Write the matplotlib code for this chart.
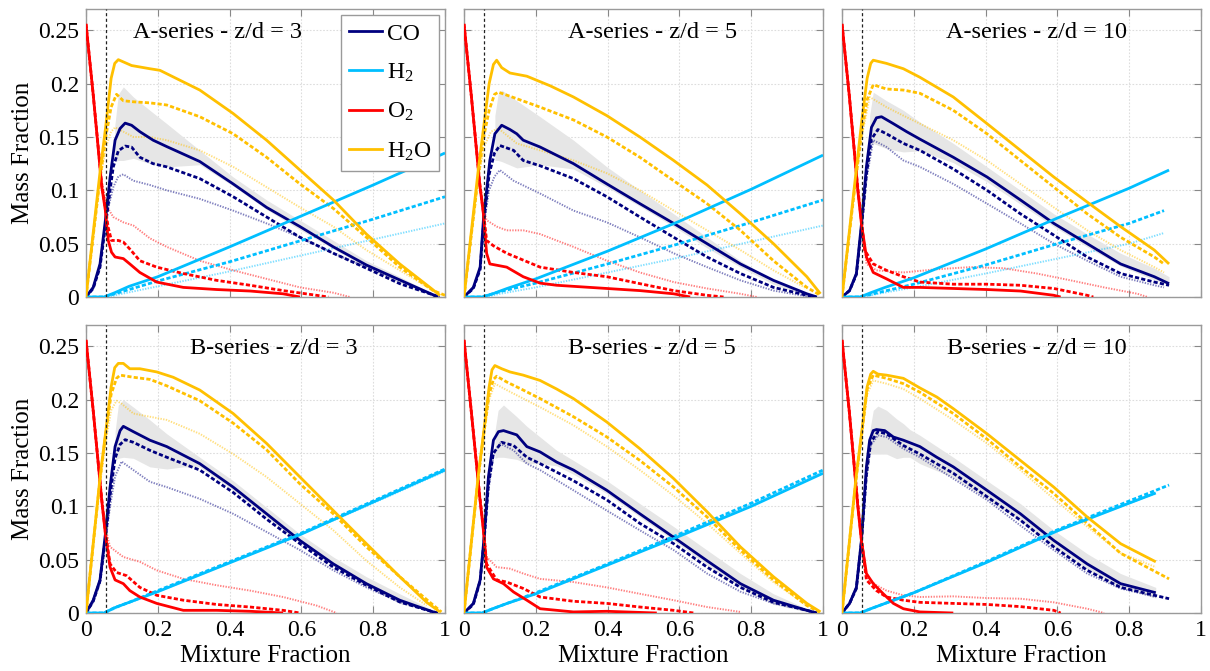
import numpy as np
import matplotlib
matplotlib.use('Agg')
import matplotlib.pyplot as plt
from matplotlib.ticker import FuncFormatter
from matplotlib.lines import Line2D

plt.rcParams['font.family'] = ['Liberation Serif', 'DejaVu Serif']
plt.rcParams['mathtext.fontset'] = 'custom'
plt.rcParams['mathtext.rm'] = 'Liberation Serif'
plt.rcParams['mathtext.it'] = 'Liberation Serif:italic'

# ---------------- data (x = mixture fraction, y = mass fraction)
Z_ST = 0.055

# A-series z/d = 3
A3_CO_SOL = [(0,0),(0.02,0.009),(0.039,0.031),(0.054,0.072),(0.067,0.112),(0.081,0.147),(0.095,0.158),(0.109,0.163),(0.127,0.161),(0.15,0.155),(0.187,0.147),(0.225,0.141),(0.317,0.127),(0.41,0.106),(0.503,0.084),(0.596,0.066),(0.689,0.047),(0.781,0.030),(0.874,0.016),(0.967,0.002),(0.981,0.0)]
A3_CO_DSH = [(0,0),(0.02,0.008),(0.039,0.028),(0.054,0.066),(0.067,0.1),(0.076,0.122),(0.09,0.137),(0.109,0.1415),(0.127,0.1405),(0.15,0.131),(0.187,0.125),(0.225,0.122),(0.317,0.111),(0.41,0.094),(0.503,0.075),(0.596,0.056),(0.689,0.041),(0.781,0.027),(0.874,0.0125),(0.967,0.002),(0.985,0.0)]
A3_CO_LIT = [(0,0),(0.02,0.008),(0.039,0.027),(0.058,0.078),(0.076,0.103),(0.09,0.113),(0.104,0.115),(0.132,0.109),(0.178,0.105),(0.225,0.1),(0.317,0.092),(0.41,0.081),(0.503,0.069),(0.596,0.056),(0.689,0.041),(0.781,0.028),(0.874,0.0156),(0.967,0.002),(0.985,0.0)]
A3_H2_SOL = [(0,0),(0.05,0),(0.08,0.004),(0.12,0.01),(0.2,0.019),(0.4,0.047),(0.6,0.076),(0.8,0.105),(1.0,0.135)]
A3_H2_DSH = [(0,0),(0.05,0),(0.08,0.003),(0.12,0.007),(0.2,0.015),(0.4,0.033),(0.6,0.053),(0.8,0.073),(1.0,0.094)]
A3_H2_LIT = [(0,0),(0.06,0),(0.1,0.003),(0.2,0.01),(0.4,0.024),(0.6,0.039),(0.8,0.054),(1.0,0.069)]
A3_O2_SOL = [(0,0.256),(0.02,0.19),(0.044,0.103),(0.054,0.081),(0.062,0.053),(0.071,0.042),(0.081,0.0375),(0.104,0.036),(0.122,0.031),(0.15,0.023),(0.197,0.014),(0.271,0.009),(0.364,0.007),(0.457,0.0056),(0.549,0.003),(0.596,0.0)]
A3_O2_DSH = [(0,0.256),(0.02,0.19),(0.044,0.105),(0.054,0.083),(0.062,0.065),(0.071,0.053),(0.09,0.053),(0.104,0.0515),(0.122,0.045),(0.15,0.034),(0.197,0.028),(0.271,0.022),(0.364,0.0156),(0.457,0.011),(0.549,0.006),(0.642,0.0016),(0.675,0.0)]
A3_O2_LIT = [(0,0.256),(0.02,0.19),(0.044,0.108),(0.058,0.085),(0.076,0.075),(0.104,0.07),(0.132,0.067),(0.178,0.055),(0.225,0.047),(0.317,0.034),(0.41,0.025),(0.503,0.017),(0.596,0.009),(0.689,0.004),(0.735,0.0)]
A3_H2O_SOL = [(0,0),(0.02,0.06),(0.04,0.12),(0.055,0.16),(0.07,0.205),(0.08,0.219),(0.09,0.2225),(0.1,0.221),(0.127,0.217),(0.178,0.214),(0.206,0.2125),(0.317,0.194),(0.41,0.172),(0.503,0.147),(0.596,0.119),(0.689,0.091),(0.781,0.059),(0.874,0.031),(0.958,0.009),(0.986,0.0015)]
A3_H2O_DSH = [(0,0),(0.02,0.057),(0.04,0.114),(0.055,0.15),(0.07,0.178),(0.085,0.19),(0.104,0.184),(0.132,0.183),(0.178,0.182),(0.225,0.18),(0.317,0.169),(0.41,0.153),(0.503,0.131),(0.596,0.106),(0.689,0.083),(0.781,0.056),(0.874,0.028),(0.967,0.006),(1.0,0.0016)]
A3_H2O_LIT = [(0,0),(0.02,0.055),(0.04,0.11),(0.055,0.14),(0.07,0.155),(0.081,0.159),(0.104,0.155),(0.132,0.15),(0.178,0.15),(0.225,0.147),(0.317,0.1375),(0.41,0.122),(0.503,0.103),(0.596,0.084),(0.689,0.066),(0.781,0.044),(0.874,0.025),(0.967,0.006)]
A3_BAND_X = [0.08,0.09,0.104,0.132,0.178,0.225,0.317,0.41,0.503,0.596,0.689,0.781,0.874,0.967]
A3_BAND_LO = [0.127,0.128,0.128,0.13,0.125,0.122,0.124,0.104,0.082,0.063,0.045,0.028,0.013,0.001]
A3_BAND_HI = [0.16,0.19,0.197,0.1875,0.175,0.1625,0.1375,0.1125,0.091,0.072,0.053,0.034,0.019,0.003]

# A-series z/d = 5
A5_CO_SOL = [(0,0),(0.026,0.009),(0.045,0.028),(0.054,0.072),(0.072,0.128),(0.086,0.153),(0.105,0.161),(0.128,0.157),(0.147,0.153),(0.165,0.147),(0.212,0.1406),(0.305,0.125),(0.398,0.106),(0.49,0.0875),(0.584,0.069),(0.677,0.05),(0.77,0.031),(0.862,0.0156),(0.955,0.003),(0.983,0.0)]
A5_CO_DSH = [(0,0),(0.026,0.008),(0.045,0.026),(0.054,0.066),(0.07,0.115),(0.085,0.135),(0.1,0.142),(0.138,0.1375),(0.165,0.128),(0.212,0.123),(0.305,0.111),(0.398,0.094),(0.49,0.075),(0.584,0.056),(0.677,0.0375),(0.77,0.022),(0.862,0.009),(0.955,0.0016),(0.98,0.0)]
A5_CO_LIT = [(0,0),(0.026,0.008),(0.045,0.026),(0.056,0.07),(0.07,0.1),(0.085,0.113),(0.1,0.119),(0.138,0.109),(0.212,0.097),(0.305,0.081),(0.398,0.07),(0.49,0.056),(0.584,0.041),(0.677,0.028),(0.77,0.0156),(0.862,0.006),(0.955,0.0006)]
A5_H2_SOL = [(0,0),(0.05,0),(0.08,0.003),(0.12,0.008),(0.2,0.017),(0.4,0.043),(0.6,0.071),(0.8,0.101),(1.0,0.133)]
A5_H2_DSH = [(0,0),(0.05,0),(0.1,0.005),(0.2,0.013),(0.4,0.031),(0.6,0.05),(0.8,0.07),(1.0,0.091)]
A5_H2_LIT = [(0,0),(0.06,0),(0.1,0.003),(0.2,0.009),(0.4,0.023),(0.6,0.037),(0.8,0.052),(1.0,0.067)]
A5_O2_SOL = [(0,0.256),(0.02,0.19),(0.044,0.105),(0.054,0.078),(0.063,0.041),(0.072,0.031),(0.119,0.028),(0.165,0.019),(0.212,0.013),(0.258,0.011),(0.351,0.009),(0.49,0.006),(0.584,0.003),(0.63,0.0)]
A5_O2_DSH = [(0,0.256),(0.02,0.19),(0.044,0.106),(0.054,0.08),(0.063,0.053),(0.082,0.048),(0.119,0.041),(0.212,0.028),(0.305,0.023),(0.398,0.019),(0.49,0.0125),(0.584,0.006),(0.677,0.0016),(0.723,0.0)]
A5_O2_LIT = [(0,0.256),(0.02,0.19),(0.044,0.107),(0.054,0.083),(0.063,0.072),(0.091,0.066),(0.119,0.0625),(0.165,0.0625),(0.212,0.059),(0.258,0.053),(0.305,0.047),(0.398,0.034),(0.49,0.023),(0.584,0.014),(0.677,0.008),(0.77,0.003),(0.816,0.0)]
A5_H2O_SOL = [(0,0),(0.02,0.06),(0.04,0.12),(0.055,0.16),(0.07,0.2),(0.082,0.218),(0.091,0.222),(0.105,0.215),(0.128,0.21),(0.175,0.207),(0.24,0.198),(0.305,0.1875),(0.398,0.17),(0.49,0.15),(0.584,0.128),(0.677,0.105),(0.77,0.078),(0.862,0.05),(0.955,0.019),(0.993,0.003)]
A5_H2O_DSH = [(0,0),(0.02,0.057),(0.04,0.114),(0.055,0.15),(0.07,0.175),(0.085,0.19),(0.096,0.192),(0.138,0.187),(0.212,0.178),(0.305,0.166),(0.398,0.15),(0.49,0.131),(0.584,0.109),(0.677,0.0875),(0.77,0.0625),(0.862,0.034),(0.955,0.009),(0.993,0.0016)]
A5_H2O_LIT = [(0,0),(0.02,0.055),(0.04,0.11),(0.055,0.14),(0.075,0.155),(0.096,0.158),(0.147,0.144),(0.212,0.1375),(0.305,0.128),(0.398,0.116),(0.49,0.1),(0.584,0.081),(0.677,0.0625),(0.77,0.044),(0.862,0.025),(0.955,0.008)]
A5_BAND_X = [0.086,0.095,0.105,0.147,0.212,0.305,0.398,0.49,0.584,0.677,0.77,0.862,0.955]
A5_BAND_LO = [0.128,0.128,0.127,0.121,0.124,0.12,0.103,0.085,0.066,0.046,0.028,0.012,0.001]
A5_BAND_HI = [0.17,0.19,0.194,0.184,0.169,0.147,0.122,0.1,0.078,0.056,0.034,0.0156,0.0016]

# A-series z/d = 10
A10_CO_SOL = [(0,0),(0.021,0.006),(0.04,0.022),(0.054,0.068),(0.068,0.122),(0.082,0.159),(0.096,0.168),(0.11,0.169),(0.143,0.1625),(0.18,0.155),(0.217,0.148),(0.31,0.131),(0.404,0.1125),(0.497,0.091),(0.59,0.069),(0.683,0.05),(0.776,0.031),(0.87,0.019),(0.911,0.0125)]
A10_CO_DSH = [(0,0),(0.021,0.006),(0.04,0.021),(0.054,0.064),(0.068,0.115),(0.082,0.148),(0.1,0.157),(0.124,0.153),(0.171,0.144),(0.217,0.1375),(0.31,0.12),(0.404,0.1),(0.497,0.078),(0.59,0.058),(0.683,0.0375),(0.776,0.022),(0.87,0.014),(0.911,0.011)]
A10_CO_LIT = [(0,0),(0.021,0.006),(0.04,0.02),(0.054,0.062),(0.068,0.11),(0.087,0.147),(0.124,0.1406),(0.171,0.128),(0.217,0.122),(0.31,0.106),(0.404,0.0875),(0.497,0.069),(0.59,0.05),(0.683,0.034),(0.776,0.019),(0.87,0.011),(0.897,0.009)]
A10_H2_SOL = [(0,0),(0.05,0),(0.08,0.004),(0.12,0.009),(0.2,0.018),(0.4,0.045),(0.6,0.074),(0.8,0.102),(0.911,0.119)]
A10_H2_DSH = [(0,0),(0.05,0),(0.1,0.004),(0.2,0.012),(0.4,0.03),(0.6,0.05),(0.8,0.069),(0.897,0.081)]
A10_H2_LIT = [(0,0),(0.06,0),(0.1,0.003),(0.2,0.009),(0.4,0.022),(0.6,0.036),(0.8,0.05),(0.897,0.06)]
A10_O2_SOL = [(0,0.256),(0.02,0.19),(0.044,0.1),(0.054,0.069),(0.068,0.0375),(0.087,0.023),(0.124,0.017),(0.171,0.009),(0.217,0.009),(0.31,0.008),(0.404,0.007),(0.497,0.0056),(0.59,0.0016),(0.609,0.0)]
A10_O2_DSH = [(0,0.256),(0.02,0.19),(0.044,0.102),(0.054,0.072),(0.063,0.044),(0.087,0.031),(0.124,0.025),(0.171,0.019),(0.217,0.014),(0.31,0.012),(0.404,0.012),(0.497,0.011),(0.59,0.008),(0.683,0.0016),(0.70,0.0)]
A10_O2_LIT = [(0,0.256),(0.02,0.19),(0.044,0.103),(0.054,0.074),(0.068,0.031),(0.096,0.025),(0.171,0.023),(0.264,0.026),(0.357,0.028),(0.45,0.027),(0.543,0.022),(0.637,0.0156),(0.73,0.009),(0.823,0.003),(0.851,0.0)]
A10_H2O_SOL = [(0,0),(0.02,0.06),(0.04,0.12),(0.055,0.165),(0.07,0.205),(0.08,0.219),(0.087,0.222),(0.124,0.219),(0.171,0.214),(0.217,0.206),(0.31,0.1875),(0.404,0.1625),(0.497,0.1375),(0.59,0.1125),(0.683,0.089),(0.776,0.066),(0.87,0.044),(0.911,0.031)]
A10_H2O_DSH = [(0,0),(0.02,0.058),(0.04,0.115),(0.055,0.155),(0.07,0.185),(0.087,0.199),(0.124,0.195),(0.171,0.194),(0.217,0.191),(0.31,0.175),(0.404,0.153),(0.497,0.128),(0.59,0.103),(0.683,0.078),(0.776,0.056),(0.87,0.0375),(0.897,0.031)]
A10_H2O_LIT = [(0,0),(0.02,0.057),(0.04,0.113),(0.055,0.15),(0.077,0.1875),(0.124,0.178),(0.171,0.17),(0.217,0.1625),(0.31,0.147),(0.404,0.128),(0.497,0.106),(0.59,0.084),(0.683,0.0625),(0.776,0.044),(0.87,0.028),(0.897,0.023)]
A10_BAND_X = [0.077,0.087,0.124,0.171,0.217,0.31,0.404,0.497,0.59,0.683,0.776,0.87,0.911]
A10_BAND_LO = [0.144,0.144,0.139,0.136,0.137,0.126,0.108,0.087,0.066,0.047,0.029,0.016,0.011]
A10_BAND_HI = [0.17,0.192,0.184,0.175,0.164,0.144,0.122,0.1,0.078,0.059,0.041,0.027,0.019]

# B-series z/d = 3
B3_CO_SOL = [(0,0),(0.02,0.012),(0.039,0.031),(0.054,0.074),(0.067,0.118),(0.081,0.156),(0.095,0.171),(0.104,0.175),(0.132,0.17),(0.178,0.162),(0.225,0.156),(0.271,0.148),(0.317,0.14),(0.41,0.118),(0.503,0.093),(0.596,0.068),(0.689,0.046),(0.781,0.0275),(0.874,0.012),(0.967,0.001),(0.98,0.0)]
B3_CO_DSH = [(0,0),(0.02,0.011),(0.039,0.03),(0.054,0.07),(0.067,0.11),(0.081,0.145),(0.095,0.158),(0.109,0.1625),(0.132,0.16),(0.178,0.1525),(0.225,0.146),(0.317,0.134),(0.41,0.113),(0.503,0.088),(0.596,0.065),(0.689,0.043),(0.781,0.026),(0.874,0.0103),(0.967,0.001),(0.98,0.0)]
B3_CO_LIT = [(0,0),(0.02,0.01),(0.039,0.028),(0.054,0.066),(0.067,0.1),(0.081,0.128),(0.099,0.142),(0.132,0.134),(0.178,0.123),(0.225,0.118),(0.317,0.107),(0.41,0.093),(0.503,0.076),(0.596,0.059),(0.689,0.04),(0.781,0.024),(0.874,0.0103),(0.967,0.001)]
B3_H2_SOL = [(0,0),(0.05,0),(0.08,0.005),(0.12,0.01),(0.2,0.02),(0.4,0.047),(0.6,0.074),(0.8,0.104),(1.0,0.134)]
B3_H2_DSH = [(0,0),(0.05,0),(0.08,0.005),(0.12,0.01),(0.2,0.021),(0.4,0.048),(0.6,0.075),(0.8,0.105),(1.0,0.135)]
B3_H2_LIT = [(0,0),(0.05,0),(0.08,0.004),(0.12,0.01),(0.2,0.02),(0.4,0.047),(0.6,0.074),(0.8,0.103),(1.0,0.133)]
B3_O2_SOL = [(0,0.256),(0.02,0.19),(0.044,0.105),(0.054,0.074),(0.067,0.043),(0.081,0.031),(0.104,0.0275),(0.122,0.021),(0.15,0.015),(0.197,0.009),(0.271,0.0025),(0.364,0.0025),(0.457,0.0016),(0.549,0.0)]
B3_O2_DSH = [(0,0.256),(0.02,0.19),(0.044,0.106),(0.054,0.076),(0.067,0.046),(0.085,0.038),(0.113,0.035),(0.15,0.024),(0.197,0.0166),(0.271,0.012),(0.364,0.008),(0.457,0.0056),(0.549,0.0025),(0.596,0.0)]
B3_O2_LIT = [(0,0.256),(0.02,0.19),(0.044,0.107),(0.054,0.08),(0.067,0.062),(0.104,0.0525),(0.15,0.048),(0.197,0.04),(0.271,0.032),(0.364,0.026),(0.457,0.021),(0.549,0.015),(0.642,0.007),(0.698,0.0)]
B3_H2O_SOL = [(0,0),(0.02,0.065),(0.04,0.13),(0.055,0.17),(0.07,0.212),(0.08,0.23),(0.09,0.234),(0.104,0.234),(0.122,0.229),(0.15,0.229),(0.197,0.226),(0.243,0.221),(0.317,0.209),(0.41,0.187),(0.503,0.159),(0.596,0.1275),(0.689,0.096),(0.781,0.065),(0.874,0.034),(0.949,0.01),(0.986,0.001)]
B3_H2O_DSH = [(0,0),(0.02,0.064),(0.04,0.128),(0.055,0.168),(0.07,0.205),(0.085,0.22),(0.095,0.223),(0.132,0.221),(0.178,0.219),(0.225,0.213),(0.317,0.199),(0.41,0.178),(0.503,0.153),(0.596,0.121),(0.689,0.093),(0.781,0.062),(0.874,0.034),(0.958,0.01),(0.99,0.001)]
B3_H2O_LIT = [(0,0),(0.02,0.062),(0.04,0.124),(0.055,0.16),(0.07,0.19),(0.085,0.199),(0.1,0.196),(0.132,0.187),(0.178,0.184),(0.225,0.181),(0.317,0.168),(0.41,0.149),(0.503,0.1275),(0.596,0.1025),(0.689,0.0775),(0.781,0.049),(0.874,0.024),(0.949,0.007)]
B3_BAND_X = [0.081,0.09,0.104,0.132,0.178,0.225,0.271,0.317,0.41,0.503,0.596,0.689,0.781,0.874,0.967]
B3_BAND_LO = [0.143,0.145,0.146,0.145,0.137,0.135,0.137,0.137,0.115,0.09,0.066,0.044,0.025,0.009,0.001]
B3_BAND_HI = [0.17,0.195,0.2,0.193,0.181,0.168,0.157,0.146,0.124,0.099,0.074,0.0525,0.034,0.018,0.0025]

# B-series z/d = 5
B5_CO_SOL = [(0,0),(0.026,0.009),(0.045,0.031),(0.056,0.071),(0.068,0.1275),(0.082,0.162),(0.096,0.17),(0.11,0.171),(0.147,0.167),(0.175,0.156),(0.212,0.151),(0.258,0.1415),(0.305,0.134),(0.398,0.115),(0.49,0.093),(0.584,0.071),(0.677,0.049),(0.77,0.0275),(0.862,0.012),(0.955,0.0025),(0.983,0.0)]
B5_CO_DSH = [(0,0),(0.026,0.008),(0.045,0.03),(0.056,0.068),(0.068,0.12),(0.082,0.15),(0.105,0.16),(0.138,0.157),(0.175,0.146),(0.212,0.14),(0.305,0.124),(0.398,0.106),(0.49,0.084),(0.584,0.065),(0.677,0.043),(0.77,0.024),(0.862,0.01),(0.955,0.0025),(0.983,0.0)]
B5_CO_LIT = [(0,0),(0.026,0.008),(0.045,0.029),(0.056,0.066),(0.068,0.115),(0.082,0.148),(0.1,0.159),(0.138,0.1525),(0.175,0.14),(0.212,0.134),(0.305,0.115),(0.398,0.096),(0.49,0.0775),(0.584,0.059),(0.677,0.037),(0.77,0.02),(0.862,0.009),(0.955,0.0025)]
B5_H2_SOL = [(0,0),(0.05,0),(0.08,0.004),(0.12,0.009),(0.2,0.018),(0.4,0.045),(0.6,0.072),(0.8,0.1),(1.0,0.131)]
B5_H2_DSH = [(0,0),(0.05,0),(0.08,0.004),(0.12,0.009),(0.2,0.019),(0.4,0.046),(0.6,0.074),(0.8,0.103),(1.0,0.134)]
B5_H2_LIT = [(0,0),(0.05,0),(0.08,0.004),(0.12,0.009),(0.2,0.018),(0.4,0.045),(0.6,0.073),(0.8,0.102),(1.0,0.132)]
B5_O2_SOL = [(0,0.256),(0.02,0.19),(0.044,0.108),(0.054,0.0775),(0.063,0.043),(0.082,0.032),(0.11,0.0275),(0.138,0.0197),(0.175,0.012),(0.212,0.004),(0.305,0.001),(0.398,0.0016),(0.537,0.0)]
B5_O2_DSH = [(0,0.256),(0.02,0.19),(0.044,0.109),(0.054,0.08),(0.063,0.046),(0.091,0.031),(0.119,0.029),(0.165,0.023),(0.212,0.015),(0.305,0.011),(0.398,0.009),(0.49,0.0056),(0.584,0.0025),(0.64,0.0)]
B5_O2_LIT = [(0,0.256),(0.02,0.19),(0.044,0.11),(0.054,0.082),(0.063,0.0525),(0.091,0.043),(0.128,0.0416),(0.165,0.037),(0.212,0.032),(0.305,0.029),(0.398,0.024),(0.49,0.018),(0.584,0.012),(0.677,0.0056),(0.77,0.001)]
B5_H2O_SOL = [(0,0),(0.02,0.065),(0.04,0.13),(0.055,0.17),(0.07,0.212),(0.078,0.228),(0.086,0.232),(0.105,0.229),(0.128,0.226),(0.165,0.223),(0.212,0.218),(0.258,0.21),(0.305,0.201),(0.398,0.179),(0.49,0.154),(0.584,0.126),(0.677,0.095),(0.77,0.062),(0.862,0.034),(0.955,0.009),(0.993,0.001)]
B5_H2O_DSH = [(0,0),(0.02,0.064),(0.04,0.128),(0.055,0.168),(0.07,0.205),(0.082,0.219),(0.091,0.222),(0.119,0.2166),(0.165,0.209),(0.212,0.201),(0.305,0.184),(0.398,0.165),(0.49,0.143),(0.584,0.118),(0.677,0.09),(0.77,0.059),(0.862,0.031),(0.955,0.007),(0.99,0.001)]
B5_H2O_LIT = [(0,0),(0.02,0.063),(0.04,0.126),(0.055,0.165),(0.07,0.2),(0.086,0.215),(0.119,0.209),(0.165,0.201),(0.212,0.193),(0.305,0.176),(0.398,0.156),(0.49,0.134),(0.584,0.11),(0.677,0.084),(0.77,0.056),(0.862,0.029),(0.955,0.007)]
B5_BAND_X = [0.086,0.095,0.11,0.147,0.175,0.212,0.258,0.305,0.398,0.49,0.584,0.677,0.77,0.862,0.955]
B5_BAND_LO = [0.145,0.146,0.146,0.144,0.14,0.14,0.138,0.13,0.112,0.09,0.068,0.045,0.024,0.008,0.001]
B5_BAND_HI = [0.17,0.19,0.195,0.184,0.175,0.165,0.1525,0.143,0.124,0.1025,0.081,0.059,0.037,0.018,0.004]

# B-series z/d = 10
B10_CO_SOL = [(0,0),(0.021,0.009),(0.04,0.024),(0.054,0.068),(0.068,0.137),(0.077,0.162),(0.087,0.171),(0.096,0.172),(0.119,0.171),(0.143,0.165),(0.171,0.162),(0.217,0.156),(0.264,0.146),(0.31,0.137),(0.404,0.115),(0.497,0.093),(0.59,0.068),(0.683,0.046),(0.776,0.0275),(0.874,0.019)]
B10_CO_DSH = [(0,0),(0.021,0.009),(0.04,0.023),(0.054,0.066),(0.068,0.13),(0.08,0.16),(0.1,0.17),(0.124,0.168),(0.171,0.157),(0.217,0.149),(0.31,0.131),(0.404,0.109),(0.497,0.087),(0.59,0.062),(0.683,0.04),(0.776,0.024),(0.911,0.0134)]
B10_CO_LIT = [(0,0),(0.021,0.008),(0.04,0.022),(0.054,0.064),(0.068,0.125),(0.08,0.157),(0.1,0.1666),(0.124,0.165),(0.171,0.154),(0.217,0.146),(0.31,0.126),(0.404,0.106),(0.497,0.082),(0.59,0.059),(0.683,0.037),(0.776,0.023),(0.874,0.015)]
B10_H2_SOL = [(0,0),(0.05,0),(0.08,0.004),(0.12,0.009),(0.2,0.019),(0.4,0.047),(0.6,0.077),(0.8,0.103),(0.874,0.1125)]
B10_H2_DSH = [(0,0),(0.05,0),(0.08,0.004),(0.12,0.009),(0.2,0.019),(0.4,0.048),(0.6,0.078),(0.8,0.105),(0.911,0.12)]
B10_H2_LIT = [(0,0),(0.05,0),(0.08,0.004),(0.12,0.009),(0.2,0.019),(0.4,0.047),(0.6,0.077),(0.8,0.103),(0.874,0.112)]
B10_O2_SOL = [(0,0.256),(0.02,0.19),(0.044,0.1),(0.054,0.068),(0.068,0.037),(0.087,0.0275),(0.115,0.018),(0.143,0.009),(0.171,0.004),(0.217,0.001),(0.31,0.0)]
B10_O2_DSH = [(0,0.256),(0.02,0.19),(0.044,0.102),(0.054,0.07),(0.068,0.031),(0.096,0.021),(0.124,0.015),(0.171,0.012),(0.217,0.01),(0.31,0.009),(0.404,0.008),(0.497,0.006),(0.59,0.0025),(0.609,0.0)]
B10_O2_LIT = [(0,0.256),(0.02,0.19),(0.044,0.103),(0.054,0.072),(0.068,0.034),(0.096,0.026),(0.124,0.021),(0.171,0.0166),(0.217,0.015),(0.31,0.0156),(0.404,0.014),(0.497,0.0134),(0.59,0.01),(0.683,0.004),(0.73,0.0)]
B10_H2O_SOL = [(0,0),(0.02,0.065),(0.04,0.13),(0.055,0.17),(0.07,0.212),(0.08,0.224),(0.087,0.2266),(0.1,0.224),(0.124,0.223),(0.171,0.22),(0.217,0.211),(0.264,0.2025),(0.31,0.1916),(0.404,0.168),(0.497,0.143),(0.59,0.118),(0.683,0.09),(0.776,0.065),(0.874,0.048)]
B10_H2O_DSH = [(0,0),(0.02,0.064),(0.04,0.128),(0.055,0.168),(0.07,0.21),(0.087,0.223),(0.124,0.22),(0.171,0.215),(0.217,0.207),(0.31,0.187),(0.404,0.163),(0.497,0.137),(0.59,0.112),(0.683,0.084),(0.776,0.056),(0.911,0.032)]
B10_H2O_LIT = [(0,0),(0.02,0.063),(0.04,0.126),(0.055,0.165),(0.07,0.205),(0.087,0.218),(0.124,0.215),(0.171,0.21),(0.217,0.201),(0.31,0.181),(0.404,0.159),(0.497,0.134),(0.59,0.107),(0.683,0.081),(0.776,0.056),(0.874,0.043)]
B10_BAND_X = [0.077,0.087,0.1,0.124,0.152,0.171,0.189,0.217,0.31,0.404,0.497,0.59,0.683,0.776,0.874]
B10_BAND_LO = [0.149,0.149,0.149,0.149,0.1447,0.146,0.146,0.14,0.127,0.107,0.086,0.062,0.041,0.024,0.014]
B10_BAND_HI = [0.17,0.19,0.194,0.19,0.182,0.1775,0.172,0.1666,0.146,0.124,0.1025,0.0775,0.0556,0.037,0.024]

SPECIES = ['CO', 'H2', 'O2', 'H2O']
LABELS = ['CO', 'H$_2$', 'O$_2$', 'H$_2$O']
COLORS = {'CO': '#00007F', 'H2': '#00BFFF', 'O2': '#FF0000', 'H2O': '#FFC000'}

PANELS = [
    ('A-series - z/d = 3', 0.365,
     {'CO': (A3_CO_SOL, A3_CO_DSH, A3_CO_LIT), 'H2': (A3_H2_SOL, A3_H2_DSH, A3_H2_LIT),
      'O2': (A3_O2_SOL, A3_O2_DSH, A3_O2_LIT), 'H2O': (A3_H2O_SOL, A3_H2O_DSH, A3_H2O_LIT)},
     (A3_BAND_X, A3_BAND_LO, A3_BAND_HI)),
    ('A-series - z/d = 5', 0.524,
     {'CO': (A5_CO_SOL, A5_CO_DSH, A5_CO_LIT), 'H2': (A5_H2_SOL, A5_H2_DSH, A5_H2_LIT),
      'O2': (A5_O2_SOL, A5_O2_DSH, A5_O2_LIT), 'H2O': (A5_H2O_SOL, A5_H2O_DSH, A5_H2O_LIT)},
     (A5_BAND_X, A5_BAND_LO, A5_BAND_HI)),
    ('A-series - z/d = 10', 0.543,
     {'CO': (A10_CO_SOL, A10_CO_DSH, A10_CO_LIT), 'H2': (A10_H2_SOL, A10_H2_DSH, A10_H2_LIT),
      'O2': (A10_O2_SOL, A10_O2_DSH, A10_O2_LIT), 'H2O': (A10_H2O_SOL, A10_H2O_DSH, A10_H2O_LIT)},
     (A10_BAND_X, A10_BAND_LO, A10_BAND_HI)),
    ('B-series - z/d = 3', 0.523,
     {'CO': (B3_CO_SOL, B3_CO_DSH, B3_CO_LIT), 'H2': (B3_H2_SOL, B3_H2_DSH, B3_H2_LIT),
      'O2': (B3_O2_SOL, B3_O2_DSH, B3_O2_LIT), 'H2O': (B3_H2O_SOL, B3_H2O_DSH, B3_H2O_LIT)},
     (B3_BAND_X, B3_BAND_LO, B3_BAND_HI)),
    ('B-series - z/d = 5', 0.524,
     {'CO': (B5_CO_SOL, B5_CO_DSH, B5_CO_LIT), 'H2': (B5_H2_SOL, B5_H2_DSH, B5_H2_LIT),
      'O2': (B5_O2_SOL, B5_O2_DSH, B5_O2_LIT), 'H2O': (B5_H2O_SOL, B5_H2O_DSH, B5_H2O_LIT)},
     (B5_BAND_X, B5_BAND_LO, B5_BAND_HI)),
    ('B-series - z/d = 10', 0.543,
     {'CO': (B10_CO_SOL, B10_CO_DSH, B10_CO_LIT), 'H2': (B10_H2_SOL, B10_H2_DSH, B10_H2_LIT),
      'O2': (B10_O2_SOL, B10_O2_DSH, B10_O2_LIT), 'H2O': (B10_H2O_SOL, B10_H2O_DSH, B10_H2O_LIT)},
     (B10_BAND_X, B10_BAND_LO, B10_BAND_HI)),
]

# ---------------- layout (pixels of a 1210x671 canvas)
W, H = 1210, 671
COL_LEFT = [86, 464, 842]
ROW_TOP = [9, 325]
AX_W, AX_H = 359, 288

fig = plt.figure(figsize=(W / 100, H / 100), dpi=100)


def fmt(v, pos):
    return '%g' % v


for k, (title, tx, curves, band) in enumerate(PANELS):
    row, col = divmod(k, 3)
    left = COL_LEFT[col] / W
    bottom = 1 - (ROW_TOP[row] + AX_H) / H
    ax = fig.add_axes([left, bottom, AX_W / W, AX_H / H])

    bx, blo, bhi = band
    ax.fill_between(bx, blo, bhi, color='#E6E6E6', lw=0, zorder=1)

    # light dotted first, then dense dashed, then solid on top
    for v, (lw, ls, alpha) in [(2, (1.4, (0.7, 0.7), 0.5)),
                               (1, (2.0, (1.5, 0.8), 1.0)),
                               (0, (2.0, '-', 1.0))]:
        for sp in SPECIES:
            pts = np.array(curves[sp][v])
            ax.plot(pts[:, 0], pts[:, 1], color=COLORS[sp], lw=lw,
                    ls=ls if ls == '-' else (0, ls), alpha=alpha,
                    solid_capstyle='butt', zorder=3 + (2 - v))

    ax.axvline(Z_ST, color='#222222', lw=0.9, ls=(0, (2.5, 2.0)), zorder=6)

    ax.set_xlim(0, 1)
    ax.set_ylim(0, 0.27)
    ax.set_xticks([0, 0.2, 0.4, 0.6, 0.8, 1.0])
    ax.set_yticks([0, 0.05, 0.1, 0.15, 0.2, 0.25])
    ax.xaxis.set_major_formatter(FuncFormatter(fmt))
    ax.yaxis.set_major_formatter(FuncFormatter(fmt))
    ax.grid(True, color='#DDDDDD', lw=0.8, ls=(0, (1.5, 1.5)), zorder=0)
    ax.set_axisbelow(True)
    ax.tick_params(direction='in', length=5, width=0.8, color='#888888',
                   top=True, right=True, labelsize=17, pad=5)
    for s in ax.spines.values():
        s.set_color('#9A9A9A')
        s.set_linewidth(1.0)

    if col != 0:
        ax.tick_params(labelleft=False)
    else:
        ax.set_ylabel('Mass Fraction', fontsize=18)
        ax.yaxis.set_label_coords(-0.145, 0.5)
    if row != 1:
        ax.tick_params(labelbottom=False)
    else:
        ax.set_xlabel('Mixture Fraction', fontsize=18)
        ax.xaxis.set_label_coords(0.5, -0.112)

    ax.text(tx, 0.917, title, transform=ax.transAxes, ha='center', va='center',
            fontsize=17.5, zorder=10)

    if k == 0:
        handles = [Line2D([], [], color=COLORS[sp], lw=2) for sp in SPECIES]
        leg = ax.legend(handles, LABELS, loc='upper right', fontsize=17,
                        handlelength=1.4, handletextpad=0.2, labelspacing=0.72,
                        borderpad=0.35, borderaxespad=0.25, fancybox=False,
                        framealpha=1, edgecolor='#9A9A9A')
        leg.get_frame().set_linewidth(1.0)
        leg.set_zorder(20)

fig.savefig('out.png', dpi=100)
